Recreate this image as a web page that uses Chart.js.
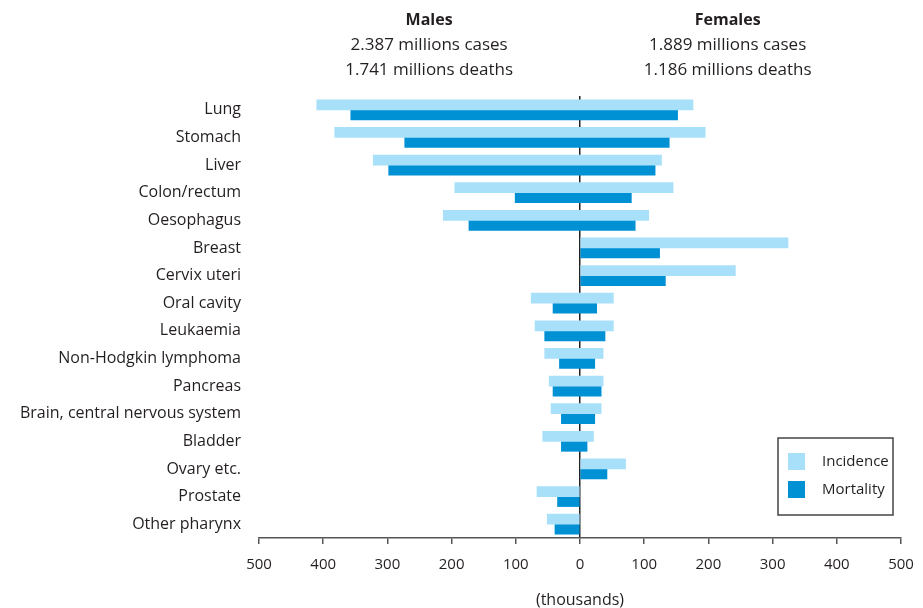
<!DOCTYPE html>
<html>
<head>
<meta charset="utf-8">
<script src="https://cdn.jsdelivr.net/npm/chart.js@4"></script>
<style>
  body { margin: 0; background: #fff; }
  #wrap { width: 923px; height: 608px; }
</style>
</head>
<body>
<div id="wrap"><canvas id="myChart" width="923" height="608"></canvas></div>
<script>
let sites = ["Lung", "Stomach", "Liver", "Colon/rectum", "Oesophagus", "Breast", "Cervix uteri",
    "Oral cavity", "Leukaemia", "Non-Hodgkin lymphoma", "Pancreas", "Brain, central nervous system",
    "Bladder", "Ovary etc.", "Prostate", "Other pharynx"];
// thousands
let maleIncidence   = [410, 382, 322, 195, 213, 0, 0, 76, 70, 55, 48, 45, 58, 0, 67, 51];
let maleMortality   = [357, 273, 298, 101, 173, 0, 0, 42, 55, 32, 42, 29, 29, 0, 35, 39];
let femaleIncidence = [176, 195, 127, 145, 107, 324, 242, 52, 52, 36, 36, 33, 21, 71, 0, 0];
let femaleMortality = [152, 139, 117, 80, 86, 124, 133, 26, 39, 23, 33, 23, 11, 42, 0, 0];
let tickValues = [-500, -400, -300, -200, -100, 0, 100, 200, 300, 400, 500];
let maleText = ["Males", "2.387 millions cases", "1.741 millions deaths"];
let femaleText = ["Females", "1.889 millions cases", "1.186 millions deaths"];

let lightBlue = "#a9e0f9";
let darkBlue = "#0091d5";
let textColor = "#231f20";
let font = "'Open Sans', 'DejaVu Sans', sans-serif";

function pairs(males, females) {
    return males.map((m, i) => [-m, females[i]]);
}

let headerPlugin = {
    id: 'header',
    afterDraw(chart) {
        let ctx = chart.ctx;
        let x = chart.scales.x;
        ctx.save();
        ctx.fillStyle = textColor;
        ctx.textAlign = "center";
        ctx.textBaseline = "middle";
        [[maleText, x.getPixelForValue(-235)], [femaleText, x.getPixelForValue(230)]].forEach(item => {
            item[0].forEach((line, i) => {
                ctx.font = (i == 0 ? "bold 16px " : "17px ") + font;
                ctx.fillText(line, item[1], 20 + i * 25);
            });
        });
        // legend box
        let area = chart.chartArea;
        let right = area.right - 8, bottom = area.bottom - 23;
        let left = right - 115, top = bottom - 77;
        ctx.strokeStyle = "#444";
        ctx.lineWidth = 1.5;
        ctx.strokeRect(left, top, right - left, bottom - top);
        chart.data.datasets.forEach((ds, i) => {
            let y = top + 23 + i * 28;
            ctx.fillStyle = ds.backgroundColor;
            ctx.fillRect(left + 10, y - 8, 17, 17);
            ctx.fillStyle = textColor;
            ctx.font = "15px " + font;
            ctx.textAlign = "left";
            ctx.fillText(ds.label, left + 44, y + 1);
        });
        ctx.restore();
    }
};

var ctx = document.getElementById('myChart').getContext('2d');
var chart = new Chart(ctx, {
    type: 'bar',
    data: {
        labels: sites,
        datasets: [
            { label: "Incidence", data: pairs(maleIncidence, femaleIncidence), backgroundColor: lightBlue, barThickness: 10, borderSkipped: false },
            { label: "Mortality", data: pairs(maleMortality, femaleMortality), backgroundColor: darkBlue, barThickness: 10, borderSkipped: false }
        ]
    },
    options: {
        indexAxis: 'y',
        responsive: false,
        animation: false,
        layout: { padding: { top: 96, right: 22, bottom: 0, left: 0 } },
        plugins: {
            legend: { display: false },
            tooltip: { enabled: false }
        },
        scales: {
            x: {
                min: -500,
                max: 500,
                afterBuildTicks(scale) { scale.ticks = tickValues.map(v => ({ value: v })); },
                afterFit(scale) { scale.height = 70; scale.paddingRight = 0; scale.paddingLeft = 0; },
                grid: {
                    color: c => c.tick && c.tick.value === 0 ? "#222" : "rgba(0,0,0,0)",
                    lineWidth: 1.5,
                    tickColor: "#555",
                    tickLength: 6,
                    drawOnChartArea: true
                },
                border: { display: true, color: "#555", width: 1.5 },
                ticks: {
                    color: textColor,
                    font: { family: font, size: 15 },
                    padding: 12,
                    maxRotation: 0,
                    callback: v => Math.abs(v)
                },
                title: {
                    display: true,
                    text: "(thousands)",
                    color: textColor,
                    font: { family: font, size: 16 },
                    padding: { top: 0, bottom: -2 }
                }
            },
            y: {
                afterFit(scale) { scale.width = 259; },
                grid: { display: false },
                border: { display: false },
                ticks: {
                    color: textColor,
                    font: { family: font, size: 16 },
                    padding: 10
                }
            }
        }
    },
    plugins: [headerPlugin]
});
</script>
</body>
</html>
